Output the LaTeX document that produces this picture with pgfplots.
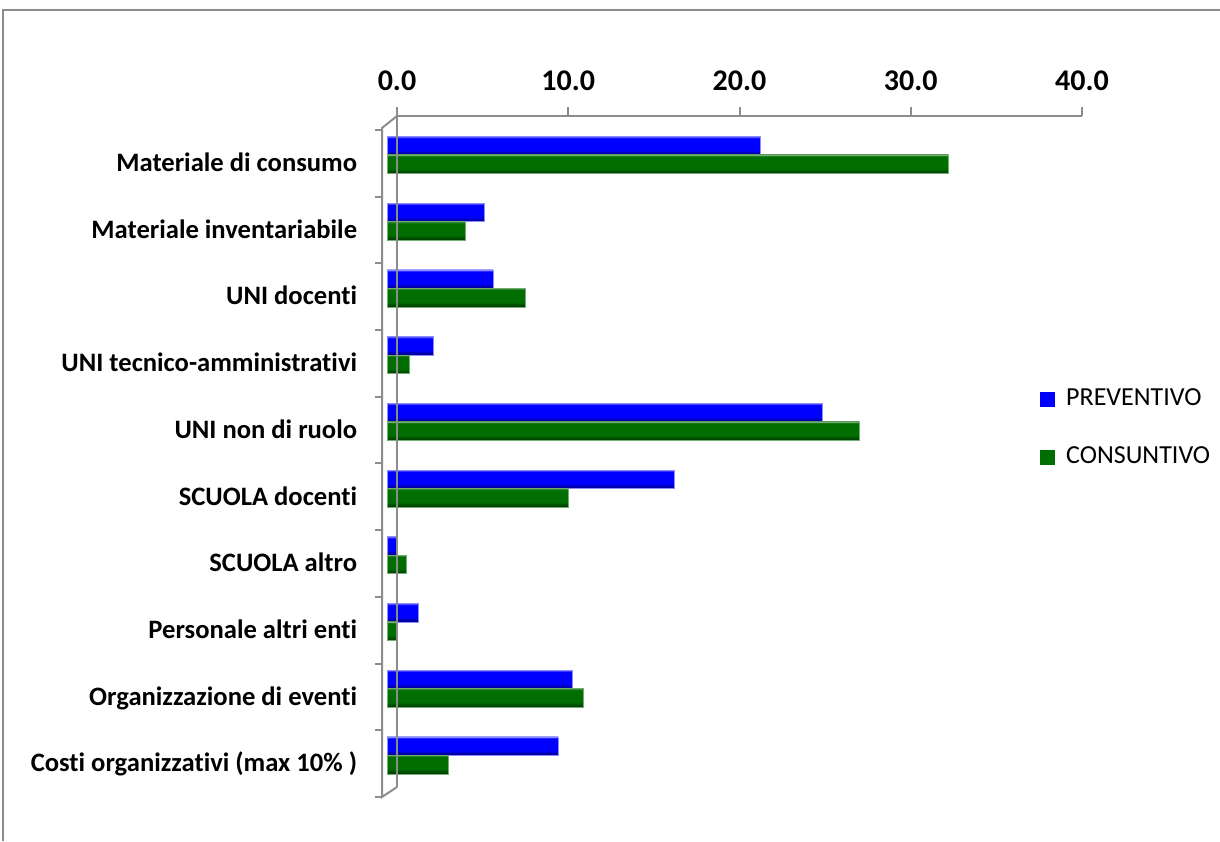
\documentclass[border=0pt]{standalone}
\usepackage{pgfplots}
\pgfplotsset{compat=1.18}
\usepackage{fontspec}
\setmainfont{Carlito}[Ligatures={NoCommon}]
\definecolor{pblue}{RGB}{0,0,255}
\definecolor{pblued}{RGB}{0,0,120}
\definecolor{pbluel}{RGB}{110,110,255}
\definecolor{cgreen}{RGB}{0,110,0}
\definecolor{cgreend}{RGB}{0,55,0}
\definecolor{cgreenl}{RGB}{60,140,60}
\definecolor{framegray}{RGB}{140,140,140}
\pgfdeclareverticalshading{cylblue}{100bp}{color(0bp)=(pblued); color(25bp)=(pblued); color(31bp)=(pblue!70!black); color(38bp)=(pblue); color(70bp)=(pblue); color(75bp)=(pbluel); color(100bp)=(pbluel)}
\pgfdeclareverticalshading{cylgreen}{100bp}{color(0bp)=(cgreend); color(25bp)=(cgreend); color(31bp)=(cgreen!70!black); color(38bp)=(cgreen); color(70bp)=(cgreen); color(75bp)=(cgreenl); color(100bp)=(cgreenl)}
\pgfplotsset{
  pstyle/.style={forget plot, bar shift=4.625pt, draw=pblue!45!white, line width=0.3pt, shading=cylblue},
  cstyle/.style={forget plot, bar shift=-4.625pt, draw=cgreen!55!white, line width=0.3pt, shading=cylgreen},
}
\begin{document}
\begin{tikzpicture}
\useasboundingbox (0,0) rectangle (610pt,420.5pt);
\fontsize{13}{15}\selectfont
\begin{axis}[
  at={(193.5pt,26.175pt)}, anchor=south west,
  scale only axis, width=342.5pt, height=333.5pt,
  xmin=0, xmax=40, ymin=-0.5, ymax=9.5,
  axis x line*=top, axis y line*=left,
  axis line style={draw=none}, tick style={draw=none},
  xtick={0,10,20,30,40},
  xticklabels={0.0,10.0,20.0,30.0,40.0},
  xticklabel style={anchor=base, yshift=15.8pt, xshift=5pt, inner sep=0pt, font=\fontsize{15}{17}\selectfont\bfseries},
  ytick={0,...,9},
  yticklabels={Costi organizzativi (max 10\% ),Organizzazione di eventi,Personale altri enti,SCUOLA altro,SCUOLA docenti,UNI non di ruolo,UNI tecnico-amministrativi,UNI docenti,Materiale inventariabile,Materiale di consumo},
  yticklabel style={anchor=base east, inner sep=0pt, xshift=-10.5pt, yshift=-8.25pt, font=\fontsize{13.3}{15}\selectfont\bfseries},
  xbar, bar width=9.25pt,
  legend style={at={(0.953,0.5407)}, anchor=west, draw=none, fill=none, inner sep=0pt,
    row sep=15pt, font=\fontsize{13}{15}\selectfont,
    nodes={inner sep=1pt, text height=9pt, text depth=3pt},
    /tikz/every odd column/.append style={column sep=4.5pt}},
  legend cell align=left,
  legend image code/.code={\fill[#1] (0pt,-3.75pt) rectangle (7.5pt,3.75pt);},
]
\addlegendimage{fill=pblue, draw=none}
\addlegendentry{PREVENTIVO}
\addlegendimage{fill=cgreen, draw=none}
\addlegendentry{CONSUNTIVO}
% PREVENTIVO
\addplot[pstyle] coordinates {(10.0,0)};
\addplot[pstyle] coordinates {(10.8,1)};
\addplot[pstyle] coordinates {(1.85,2)};
\addplot[pstyle] coordinates {(0.6,3)};
\addplot[pstyle] coordinates {(16.8,4)};
\addplot[pstyle] coordinates {(25.4,5)};
\addplot[pstyle] coordinates {(2.7,6)};
\addplot[pstyle] coordinates {(6.2,7)};
\addplot[pstyle] coordinates {(5.7,8)};
\addplot[pstyle] coordinates {(21.8,9)};
% CONSUNTIVO
\addplot[cstyle] coordinates {(3.6,0)};
\addplot[cstyle] coordinates {(11.45,1)};
\addplot[cstyle] coordinates {(0.6,2)};
\addplot[cstyle] coordinates {(1.1,3)};
\addplot[cstyle] coordinates {(10.6,4)};
\addplot[cstyle] coordinates {(27.6,5)};
\addplot[cstyle] coordinates {(1.3,6)};
\addplot[cstyle] coordinates {(8.1,7)};
\addplot[cstyle] coordinates {(4.6,8)};
\addplot[cstyle] coordinates {(32.8,9)};
\end{axis}
% outer frame
\draw[framegray, line width=0.8pt] (1.5pt,0pt) -- (1.5pt,415.5pt) -- (610pt,415.5pt);
% 3D axis frame
\begin{scope}[framegray, line width=1pt]
\draw (198.5pt,362.5pt) -- (541pt,362.5pt);
\foreach \k in {0,...,4} { \draw (198.5pt+85.625pt*\k,362.5pt) -- (198.5pt+85.625pt*\k,367pt); }
\draw (198.5pt,362.5pt) -- (198.5pt,27pt);
\draw (198.5pt,362.5pt) -- (191pt,356.5pt) -- (191pt,22pt) -- (198.5pt,27pt);
\foreach \k in {0,...,10} { \draw (191pt,355.5pt-33.35pt*\k) -- (187.5pt,355.5pt-33.35pt*\k); }
\end{scope}
\end{tikzpicture}
\end{document}
